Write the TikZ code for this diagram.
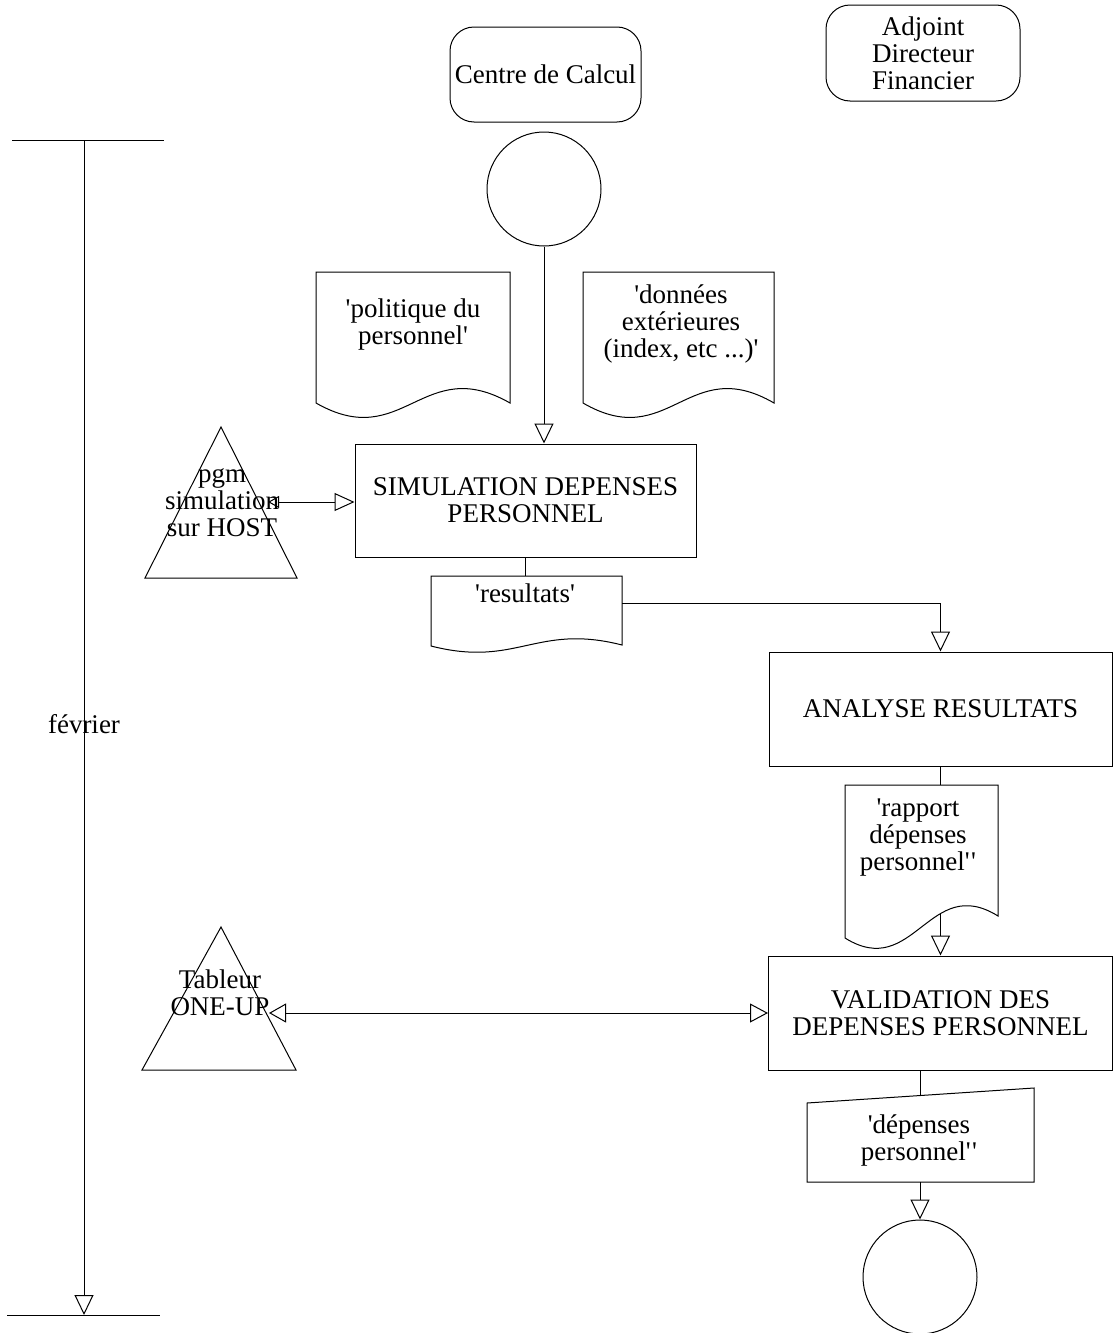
\documentclass[tikz,border=0pt]{standalone}
\usepackage{fontspec}
\setmainfont{Liberation Serif}[Ligatures=TeXOff]
\usetikzlibrary{arrows.meta}
\newcommand\docpath[6]{%
  \pgfmathsetmacro\dw{#3-#1}%
  \draw[ln] (#1,#4) -- (#1,#2) -- (#3,#2) -- (#3,#5)
    .. controls (#1+0.55*\dw,#5-#6) and (#1+0.45*\dw,#4+#6) .. (#1,#4) -- cycle;
}
\newcommand\dq{'\kern1.5pt'}
\begin{document}
\begin{tikzpicture}[x=1pt,y=-1pt,
  ln/.style={line width=1pt, draw=black},
  txt/.style={font=\fontsize{27}{27}\selectfont, align=center, inner sep=0pt},
  procbox/.style={ln, draw, rectangle, txt},
  rbox/.style={ln, draw, rectangle, rounded corners=24pt, txt},
  endcirc/.style={ln, draw, circle, minimum size=114pt, inner sep=0pt},
  arr/.style={ln, -{Triangle[open,length=20pt,width=19pt]}},
  dblA/.style={ln, {Triangle[open,length=11pt,width=12pt]}-{Triangle[open,length=20pt,width=18pt]}},
  dblB/.style={ln, {Triangle[open,length=17pt,width=19pt]}-{Triangle[open,length=18pt,width=19pt]}},
]
\useasboundingbox (0,0) rectangle (1115,1333);

% actors
\node[rbox, minimum width=191pt, minimum height=95pt] (cc) at (545.5,74.5) {Centre de Calcul};
\node[rbox, minimum width=194pt, minimum height=96pt] (adf) at (923,53) {Adjoint\\Directeur\\Financier};

% timeline
\coordinate (tlT) at (84,140);
\coordinate (tlB) at (84,1315);
\coordinate (tlTL) at (12,140);
\coordinate (tlTR) at (164,140);
\coordinate (tlBL) at (7,1315);
\coordinate (tlBR) at (160,1315);
\draw[ln] (tlTL) -- (tlTR);
\draw[ln] (tlBL) -- (tlBR);
\draw[arr] (tlT) -- (tlB);
\node[txt] (fev) at (84,724) {février};

% start circle
\node[endcirc] (circ1) at (544,189) {};

% documents
\docpath{316}{272}{510}{403}{403}{50}
\node[txt] (polit) at (413,324.5) {'politique du\\personnel'};
\docpath{583}{272}{774}{403}{403}{50}
\node[txt] (donnees) at (681,324) {'données\\extérieures\\(index, etc ...)'};

% simulation
\node[procbox, minimum width=341pt, minimum height=113pt] (sim) at (525.5,500.5) {SIMULATION DEPENSES\\PERSONNEL};
\draw[arr] (circ1) -- (circ1 |- sim.north);

% pgm triangle
\draw[ln] (221,427) -- (297,578) -- (145,578) -- cycle;
\node[txt] (pgm) at (222,502.5) {pgm\\simulation\\sur HOST};
\coordinate (pgmR) at (268,502);
\draw[dblA] (pgmR) -- (sim.west |- pgmR);

% resultats
\docpath{431}{576}{622}{646}{645}{22}
\node[txt] (result) at (525,593) {'resultats'};
\coordinate (resT) at (525.5,576);
\coordinate (resR) at (622,603);
\draw[ln] (sim.south) -- (resT);

% analyse
\node[procbox, minimum width=343pt, minimum height=114pt] (analyse) at (940.5,709) {ANALYSE RESULTATS};
\draw[arr] (resR) -| (analyse.north);

% rapport
\docpath{845}{785}{998}{938}{916}{43}
\node[txt] (rapport) at (918,837.5) {'rapport\\dépenses\\personnel\dq};
\coordinate (rapT) at (940.5,785);
\coordinate (rapW) at (940.5,913);
\draw[ln] (analyse.south) -- (rapT);

% validation
\node[procbox, minimum width=344pt, minimum height=114pt] (valid) at (940.5,1013) {VALIDATION DES\\DEPENSES PERSONNEL};
\draw[arr] (rapW) -- (valid.north);

% tableur triangle
\draw[ln] (221,927) -- (296,1070) -- (142,1070) -- cycle;
\node[txt] (tab) at (220,993) {Tableur\\ONE-UP};
\coordinate (tabR) at (269,1013);
\draw[dblB] (tabR) -- (valid.west |- tabR);

% depenses (manual input)
\draw[ln] (807,1103) -- (1034,1088) -- (1034,1182) -- (807,1182) -- cycle;
\node[txt] (dep) at (919,1140.5) {'dépenses\\personnel\dq};
\coordinate (depT) at (920,1095.5);
\coordinate (depB) at (920,1182);
\draw[ln] (valid.south -| depT) -- (depT);

% end circle
\node[endcirc] (circ2) at (920,1277) {};
\draw[arr] (depB) -- (circ2.north);
\end{tikzpicture}
\end{document}
